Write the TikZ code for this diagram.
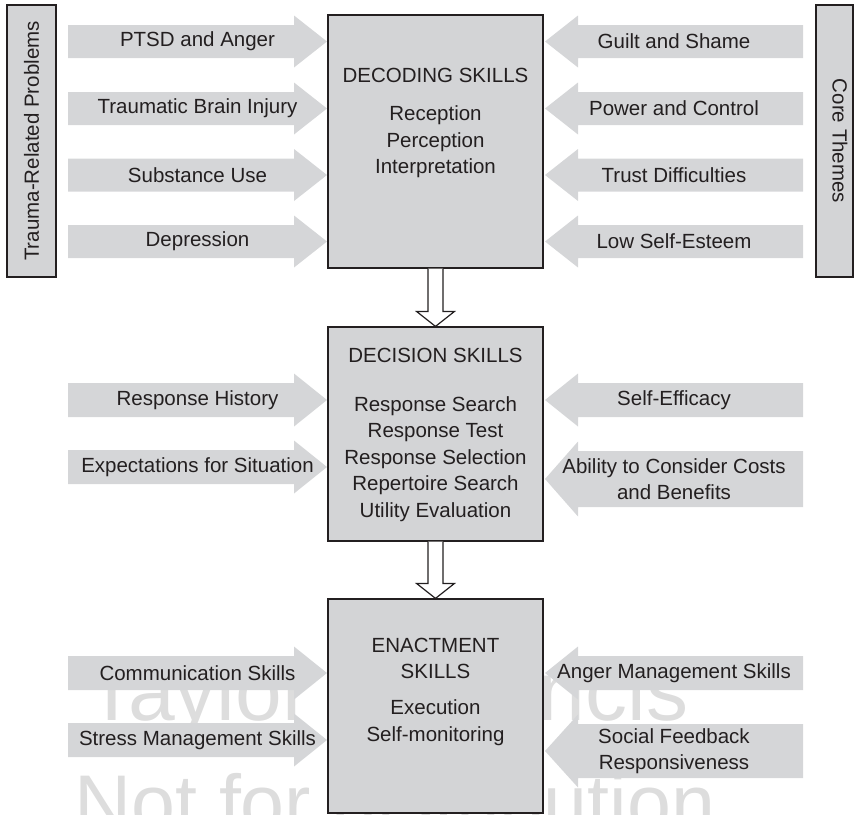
\documentclass[tikz,border=0pt]{standalone}
\usepackage{fontspec}
\setmainfont{Liberation Sans}
\usepackage{tikz}
\usetikzlibrary{calc}
\definecolor{panelgray}{RGB}{211,212,214}
\definecolor{feedgray}{RGB}{213,214,216}
\definecolor{inkdark}{RGB}{35,31,32}
\definecolor{markgray}{RGB}{221,221,221}

\tikzset{
  skillbox/.style={rectangle, draw=inkdark, fill=panelgray, line width=1.2pt, minimum width=215pt, inner sep=0pt},
  sidebox/.style={rectangle, draw=inkdark, fill=panelgray, line width=1.2pt, minimum height=272pt, inner sep=0pt},
  feedarrow/.style={fill=feedgray},
  feedtext/.style={font=\fontsize{20.5}{26.5}\selectfont, text=inkdark, align=center, inner sep=0pt},
  flowarrow/.style={draw=inkdark, fill=white, line width=1.2pt, line join=miter},
  watermark/.style={font=\fontsize{84}{84}\selectfont, text=markgray, inner sep=0pt, anchor=base west}
}

% name, centre y, half body, label
\newcommand{\feedleft}[4]{%
  \fill[feedarrow] (68,#2-#3) -- (294,#2-#3) -- (294,#2-#3-9.5) -- (327,#2)
    -- (294,#2+#3+9.5) -- (294,#2+#3) -- (68,#2+#3) -- cycle;
  \node[feedtext] (#1) at (197.5,#2) {#4};}
\newcommand{\feedright}[4]{%
  \fill[feedarrow] (803,#2-#3) -- (578,#2-#3) -- (578,#2-#3-9.5) -- (545,#2)
    -- (578,#2+#3+9.5) -- (578,#2+#3) -- (803,#2+#3) -- cycle;
  \node[feedtext] (#1) at (674,#2) {#4};}
\newcommand{\flowdown}[2]{%
  \draw[flowarrow] ($(#1.south)+(-7.5,0)$) -- ($(#2.north)+(-7.5,-15)$) -- ++(-11.5,0)
    -- (#2.north) -- ($(#2.north)+(19,-15)$) -- ++(-11.5,0) -- ($(#1.south)+(7.5,0)$);}

\begin{document}
\begin{tikzpicture}[x=1pt, y=-1pt]
\useasboundingbox (0,0) rectangle (856,814);
\clip (0,0) rectangle (856,814);

\node[watermark] (wmtop) at (86,720) {Taylor \& Francis};
\node[watermark, font=\fontsize{79}{79}\selectfont] (wmbottom) at (74,830) {Not for distribution};

\node[sidebox, minimum width=49pt] (trauma) at (31.5,141) {};
\node[feedtext, rotate=90] (traumalabel) at (31.5,141) {Trauma-Related Problems};
\node[sidebox, minimum width=37pt] (themes) at (834.5,141) {};
\node[feedtext, rotate=-90] (themeslabel) at (840,141) {Core Themes};

\feedleft{ptsd}{41.5}{16.5}{PTSD and Anger}
\feedleft{tbi}{108.5}{16.5}{Traumatic Brain Injury}
\feedleft{substance}{175}{16.5}{Substance Use}
\feedleft{depression}{241.5}{16.5}{Depression}
\feedright{guilt}{41.5}{16.5}{Guilt and Shame}
\feedright{power}{108.5}{16.5}{Power and Control}
\feedright{trust}{175}{16.5}{Trust Difficulties}
\feedright{esteem}{241.5}{16.5}{Low Self-Esteem}

\feedleft{history}{400}{17}{Response History}
\feedleft{expect}{467}{17}{Expectations for Situation}
\feedright{efficacy}{400}{17}{Self-Efficacy}
\feedright{costs}{479}{28}{Ability to Consider Costs\\and Benefits}

\feedleft{communication}{673}{17}{Communication Skills}
\feedleft{stress}{740}{17}{Stress Management Skills}
\feedright{angermgmt}{673}{17}{Anger Management Skills}
\feedright{feedback}{751}{27}{Social Feedback\\Responsiveness}

\node[skillbox, minimum height=253pt] (decoding) at (435.5,141.5) {};
\node[feedtext] (decodingtitle) at (435.5,75) {DECODING SKILLS};
\node[feedtext] (decodinglist) at (435.5,142) {Reception\\Perception\\Interpretation};

\node[skillbox, minimum height=214pt] (decision) at (435.5,434) {};
\node[feedtext] (decisiontitle) at (435.5,355) {DECISION SKILLS};
\node[feedtext] (decisionlist) at (435.5,459) {Response Search\\Response Test\\Response Selection\\Repertoire Search\\Utility Evaluation};

\node[skillbox, minimum height=214pt] (enactment) at (435.5,706) {};
\node[feedtext] (enactmenttitle) at (435.5,658.5) {ENACTMENT\\SKILLS};
\node[feedtext] (enactmentlist) at (435.5,722.5) {Execution\\Self-monitoring};

\flowdown{decoding}{decision}
\flowdown{decision}{enactment}
\end{tikzpicture}
\end{document}
